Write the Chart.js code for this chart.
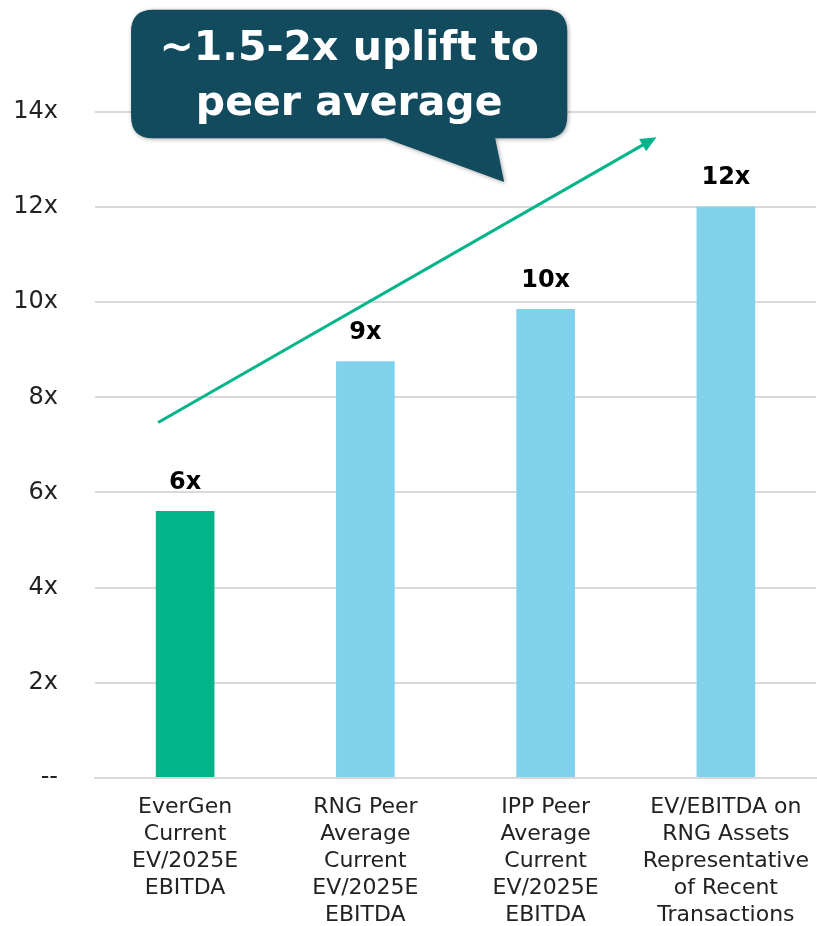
<!DOCTYPE html>
<html>
<head>
<meta charset="utf-8">
<script src="https://cdn.jsdelivr.net/npm/chart.js@4/dist/chart.umd.min.js"></script>
<style>
html,body{margin:0;padding:0;background:#fff;}
#wrap{position:relative;width:817px;height:926px;}
</style>
</head>
<body>
<div id="wrap"><canvas id="c" width="817" height="926"></canvas></div>
<script>
const categories = [
  ["EverGen","Current","EV/2025E","EBITDA"],
  ["RNG Peer","Average","Current","EV/2025E","EBITDA"],
  ["IPP Peer","Average","Current","EV/2025E","EBITDA"],
  ["EV/EBITDA on","RNG Assets","Representative","of Recent","Transactions"]
];
const values = [5.6, 8.75, 9.85, 12.0];
const valueLabels = ["6x", "9x", "10x", "12x"];
const barColors = ["#00B589", "#80D2EC", "#80D2EC", "#80D2EC"];
const yTicks = [0, 2, 4, 6, 8, 10, 12, 14];
const calloutLines = ["~1.5-2x uplift to", "peer average"];
// trend arrow endpoints in (category index, value)
const arrowStart = [-0.15, 7.47];
const arrowEnd = [2.615, 13.47];
// callout box in (category index, value)
const calloutBox = {x0: -0.3, x1: 2.12, yTop: 16.15, yBottom: 13.45, tailL: 1.11, tailR: 1.72, tipX: 1.77, tipY: 12.53};

const FONT = "'DejaVu Sans', sans-serif";

const overlay = {
  id: 'overlay',
  afterDatasetsDraw(chart) {
    const ctx = chart.ctx, xs = chart.scales.x, ys = chart.scales.y;
    const meta = chart.getDatasetMeta(0);
    // value labels
    ctx.save();
    ctx.fillStyle = '#000';
    ctx.font = "bold 24px " + FONT;
    ctx.textAlign = 'center';
    ctx.textBaseline = 'middle';
    meta.data.forEach((bar, i) => {
      ctx.fillText(valueLabels[i], bar.x, bar.y - 29);
    });
    ctx.restore();

    // arrow
    const x1 = xs.getPixelForValue(arrowStart[0]), y1 = ys.getPixelForValue(arrowStart[1]);
    const x2 = xs.getPixelForValue(arrowEnd[0]), y2 = ys.getPixelForValue(arrowEnd[1]);
    const ang = Math.atan2(y2 - y1, x2 - x1);
    ctx.save();
    ctx.strokeStyle = '#00B589';
    ctx.fillStyle = '#00B589';
    ctx.lineWidth = 3;
    ctx.beginPath();
    ctx.moveTo(x1, y1);
    ctx.lineTo(x2 - 10 * Math.cos(ang), y2 - 10 * Math.sin(ang));
    ctx.stroke();
    const hl = 16, hw = 7;
    ctx.beginPath();
    ctx.moveTo(x2, y2);
    ctx.lineTo(x2 - hl * Math.cos(ang) + hw * Math.sin(ang), y2 - hl * Math.sin(ang) - hw * Math.cos(ang));
    ctx.lineTo(x2 - hl * Math.cos(ang) - hw * Math.sin(ang), y2 - hl * Math.sin(ang) + hw * Math.cos(ang));
    ctx.closePath();
    ctx.fill();
    ctx.restore();

    // callout
    const b = calloutBox;
    const bx0 = xs.getPixelForValue(b.x0), bx1 = xs.getPixelForValue(b.x1);
    const by0 = ys.getPixelForValue(b.yTop), by1 = ys.getPixelForValue(b.yBottom);
    const tl = xs.getPixelForValue(b.tailL), tr = xs.getPixelForValue(b.tailR);
    const tx = xs.getPixelForValue(b.tipX), ty = ys.getPixelForValue(b.tipY);
    const r = 22;
    ctx.save();
    ctx.shadowColor = 'rgba(0,0,0,0.35)';
    ctx.shadowBlur = 4;
    ctx.shadowOffsetX = 1;
    ctx.shadowOffsetY = 1;
    ctx.fillStyle = '#124A5E';
    ctx.beginPath();
    ctx.moveTo(bx0 + r, by0);
    ctx.lineTo(bx1 - r, by0);
    ctx.quadraticCurveTo(bx1, by0, bx1, by0 + r);
    ctx.lineTo(bx1, by1 - r);
    ctx.quadraticCurveTo(bx1, by1, bx1 - r, by1);
    ctx.lineTo(tr, by1);
    ctx.lineTo(tx, ty);
    ctx.lineTo(tl, by1);
    ctx.lineTo(bx0 + r, by1);
    ctx.quadraticCurveTo(bx0, by1, bx0, by1 - r);
    ctx.lineTo(bx0, by0 + r);
    ctx.quadraticCurveTo(bx0, by0, bx0 + r, by0);
    ctx.closePath();
    ctx.fill();
    ctx.restore();

    ctx.save();
    ctx.fillStyle = '#fff';
    let fs = 44;
    ctx.font = "bold " + fs + "px " + FONT;
    const w = ctx.measureText(calloutLines[0]).width;
    fs = Math.min(50, fs * ((bx1 - bx0) * 0.87) / w);
    ctx.font = "bold " + fs.toFixed(1) + "px " + FONT;
    ctx.textAlign = 'center';
    ctx.textBaseline = 'middle';
    const cx = (bx0 + bx1) / 2;
    const h = by1 - by0;
    ctx.fillText(calloutLines[0], cx, by0 + h * 0.31);
    ctx.fillText(calloutLines[1], cx, by0 + h * 0.74);
    ctx.restore();
  }
};

new Chart(document.getElementById('c'), {
  type: 'bar',
  data: {
    labels: categories,
    datasets: [{
      data: values,
      backgroundColor: barColors,
      barThickness: 58
    }]
  },
  options: {
    responsive: false,
    animation: false,
    layout: { padding: { top: 112, right: 0, left: 0, bottom: -11 } },
    plugins: { legend: { display: false }, tooltip: { enabled: false } },
    scales: {
      x: {
        grid: { display: false },
        border: { color: '#d9d9d9', width: 2 },
        ticks: {
          color: '#222',
          font: { family: FONT, size: 22, lineHeight: 1.23 },
          maxRotation: 0,
          autoSkip: false,
          padding: 8
        }
      },
      y: {
        min: 0, max: 14,
        afterBuildTicks(axis) { axis.ticks = yTicks.map(v => ({ value: v })); },
        afterFit(axis) { axis.width = 95; },
        grid: { color: '#d9d9d9', lineWidth: 2, drawTicks: false },
        border: { display: false },
        ticks: {
          color: '#222',
          font: { family: FONT, size: 24 },
          padding: 37,
          callback: v => v === 0 ? '--' : v + 'x'
        }
      }
    }
  },
  plugins: [overlay]
});
</script>
</body>
</html>
